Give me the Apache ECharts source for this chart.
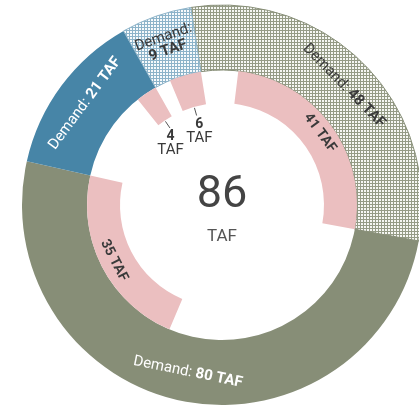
<!DOCTYPE html>
<html>
<head>
<meta charset="utf-8">
<script src="https://cdn.jsdelivr.net/npm/echarts@6/dist/echarts.min.js"></script>
<style>
html, body { margin: 0; padding: 0; background: #fff; }
#chart { width: 419px; height: 407px; }
</style>
</head>
<body>
<div id="chart"></div>
<script>
// demand (outer ring) and supply (inner ring), clockwise from the top
var demand = [48, 80, 21, 9];
var supply = [41, 35, 4, 6];
var unit = 'TAF';

function hatch(line, bg) {
    var c = document.createElement('canvas');
    c.width = 3;
    c.height = 3;
    var ctx = c.getContext('2d');
    ctx.fillStyle = bg;
    ctx.fillRect(0, 0, 3, 3);
    ctx.fillStyle = line;
    ctx.fillRect(0, 0, 3, 1);
    ctx.fillRect(0, 0, 1, 3);
    return { image: c, repeat: 'repeat' };
}

var center = [222, 205];
var startAngle = 99;
var innerR = [102, 135];
var font = 'Roboto, "Noto Sans", sans-serif';

var outerColors = [hatch('#959b86', '#f6f7f3'), '#878e77', '#4785a7', hatch('#8cb3c9', '#f6fafc')];
var outerBorder = ['#878e77', null, null, '#8fb4c9'];
var outerText = ['#3a3a3a', '#fff', '#fff', '#3a3a3a'];

var outerData = [];
var innerData = [];
var smallData = [];
var ticks = [];
var sum = demand.reduce(function(a, b){ return a + b; }, 0);
var cum = 0;

for (var i = 0; i < demand.length; i++) {
    var d = demand[i];
    var s = supply[i];
    var small = d < 15;
    outerData.push({
        value: d,
        itemStyle: {
            color: outerColors[i],
            borderColor: outerBorder[i] || 'transparent',
            borderWidth: outerBorder[i] ? 1 : 0
        },
        label: {
            color: outerText[i],
            formatter: (small ? 'Demand:\n' : 'Demand: ') + '{b|' + d + ' ' + unit + '}',
            lineHeight: small ? 14 : 16
        }
    });

    var gap = { value: d - s, itemStyle: { color: 'transparent' }, label: { show: false } };
    innerData.push(gap);
    smallData.push(gap);
    innerData.push({
        value: s,
        itemStyle: { color: '#ebbfc0' },
        label: { show: s >= 15 }
    });
    smallData.push({
        value: s,
        itemStyle: { color: 'transparent' },
        label: { show: s < 15 }
    });

    // short radial tick under the small supply slices
    if (s < 15) {
        var mid = (startAngle - (cum + d - s / 2) / sum * 360) * Math.PI / 180;
        ticks.push({
            type: 'line',
            silent: true,
            shape: {
                x1: center[0] + Math.cos(mid) * (innerR[0] - 1),
                y1: center[1] - Math.sin(mid) * (innerR[0] - 1),
                x2: center[0] + Math.cos(mid) * (innerR[0] - 9),
                y2: center[1] - Math.sin(mid) * (innerR[0] - 9)
            },
            style: { stroke: '#555', lineWidth: 1 }
        });
    }
    cum += d;
}

var total = supply.reduce(function(a, b){ return a + b; }, 0);

var myChart = echarts.init(document.getElementById('chart'), null, { renderer: 'canvas' });

var option = {
    animation: false,
    series: [
        {
            type: 'pie',
            center: center,
            radius: [135, 200],
            startAngle: startAngle,
            silent: true,
            avoidLabelOverlap: false,
            emphasis: { disabled: true },
            label: {
                show: true,
                position: 'inside',
                rotate: 'tangential',
                fontFamily: font,
                fontSize: 15,
                rich: {
                    b: { fontFamily: font, fontSize: 15, fontWeight: 'bold' }
                }
            },
            labelLine: { show: false },
            data: outerData
        },
        {
            type: 'pie',
            center: center,
            radius: innerR,
            startAngle: startAngle,
            silent: true,
            avoidLabelOverlap: false,
            emphasis: { disabled: true },
            label: {
                position: 'inside',
                rotate: 'tangential',
                color: '#3a3a3a',
                fontFamily: font,
                fontSize: 14,
                fontWeight: 'bold',
                formatter: '{c} ' + unit
            },
            labelLine: { show: false },
            data: innerData
        },
        {
            type: 'pie',
            center: center,
            radius: [60, 100],
            startAngle: startAngle,
            silent: true,
            avoidLabelOverlap: false,
            emphasis: { disabled: true },
            label: {
                position: 'inside',
                rotate: 0,
                color: '#3a3a3a',
                fontFamily: font,
                formatter: '{n|{c}}\n{t|' + unit + '}',
                rich: {
                    n: { fontFamily: font, fontSize: 14, fontWeight: 'bold', color: '#3a3a3a', lineHeight: 14 },
                    t: { fontFamily: font, fontSize: 15, color: '#3a3a3a', lineHeight: 14 }
                }
            },
            labelLine: { show: false },
            labelLayout: function(p) {
                var out = { hideOverlap: false };
                if (p.dataIndex === 5) { out.dx = -5; out.dy = 7; }
                if (p.dataIndex === 7) { out.dy = 6; }
                return out;
            },
            data: smallData
        }
    ],
    graphic: ticks.concat([
        {
            type: 'text',
            x: center[0],
            y: 196,
            style: {
                text: String(total),
                font: '45px ' + font,
                fill: '#444',
                align: 'center',
                verticalAlign: 'middle'
            }
        },
        {
            type: 'text',
            x: center[0],
            y: 237,
            style: {
                text: unit,
                font: '17px ' + font,
                fill: '#555',
                align: 'center',
                verticalAlign: 'middle'
            }
        }
    ])
};

myChart.setOption(option);
</script>
</body>
</html>
